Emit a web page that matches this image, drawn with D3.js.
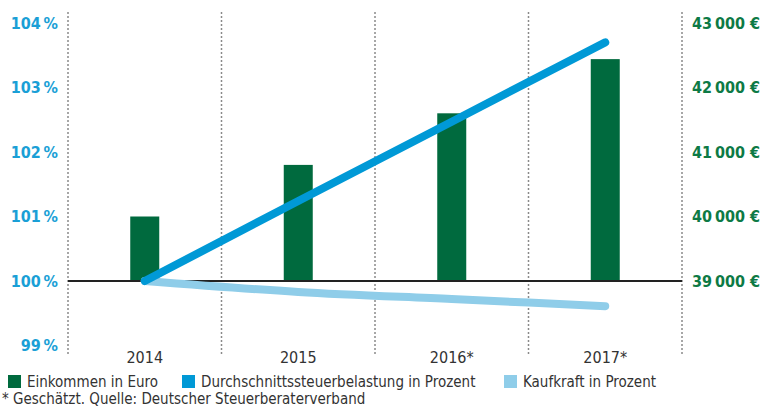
<!DOCTYPE html>
<html>
<head>
<meta charset="utf-8">
<script src="https://cdn.jsdelivr.net/npm/d3@7"></script>
<style>
  body { margin: 0; background: #fff; }
  svg text { font-family: "Liberation Sans Narrow", "DejaVu Sans Condensed", sans-serif; }
</style>
</head>
<body>
<div id="chart"></div>
<script>
let width = 760,
    height = 407,
    margin = ({ top: 23, right: 78, bottom: 61.5, left: 68 });

// data
const years = ["2014", "2015", "2016*", "2017*"];
const einkommen = [40000, 40800, 41600, 42440];
const steuerbelastung = [100, 101.24, 102.47, 103.7];
const kaufkraft = [100, 99.83, 99.72, 99.61];
const pctTicks = [99, 100, 101, 102, 103, 104];
const euroTicks = [39000, 40000, 41000, 42000, 43000];
const legendLabels = ["Einkommen in Euro", "Durchschnittssteuerbelastung in Prozent", "Kaufkraft in Prozent"];
const footnote = "* Geschätzt. Quelle: Deutscher Steuerberaterverband";

const green = "#006a3e",
      blue = "#0099d6",
      lightBlue = "#8fcde9";

const svg = d3.select("#chart")
  .append("svg")
  .attr("width", width)
  .attr("height", height);

let x = d3.scaleBand()
  .domain(years)
  .range([margin.left, width - margin.right]);

let yPct = d3.scaleLinear()
  .domain([99, 104])
  .range([height - margin.bottom, margin.top]);

let yEuro = d3.scaleLinear()
  .domain([38000, 43000])
  .range([height - margin.bottom, margin.top]);

// dotted separators
let seps = x.domain().map(d => x(d)).concat([x.range()[1]]);
svg.append("g")
  .selectAll("line")
  .data(seps)
  .join("line")
  .attr("x1", d => d)
  .attr("x2", d => d)
  .attr("y1", 12)
  .attr("y2", 356)
  .attr("stroke", "#8a8a8a")
  .attr("stroke-width", 1.5)
  .attr("stroke-dasharray", "2,2");

// bars
let barW = 29;
svg.append("g")
  .selectAll("rect")
  .data(einkommen)
  .join("rect")
  .attr("x", (d, i) => x(years[i]) + x.bandwidth() / 2 - barW / 2)
  .attr("y", d => yEuro(d))
  .attr("width", barW)
  .attr("height", d => yEuro(39000) - yEuro(d))
  .attr("fill", green);

// baseline
svg.append("line")
  .attr("x1", x.range()[0])
  .attr("x2", x.range()[1])
  .attr("y1", yPct(100))
  .attr("y2", yPct(100))
  .attr("stroke", "#222")
  .attr("stroke-width", 2);

let cx = i => x(years[i]) + x.bandwidth() / 2;

let lineSteuer = d3.line()
  .x((d, i) => cx(i))
  .y(d => yPct(d));

let lineKauf = d3.line()
  .x((d, i) => cx(i))
  .y(d => yPct(d))
  .curve(d3.curveMonotoneX);

svg.append("path")
  .datum(kaufkraft)
  .attr("fill", "none")
  .attr("stroke", lightBlue)
  .attr("stroke-width", 8)
  .attr("stroke-linecap", "round")
  .attr("d", lineKauf);

svg.append("path")
  .datum(steuerbelastung)
  .attr("fill", "none")
  .attr("stroke", blue)
  .attr("stroke-width", 8)
  .attr("stroke-linecap", "round")
  .attr("d", lineSteuer);

// left axis
let leftAxis = svg.append("g")
  .attr("transform", `translate(${margin.left - 10},0)`)
  .call(d3.axisLeft(yPct).tickValues(pctTicks).tickSize(0).tickPadding(0).tickFormat(d => d + "\u2009%"));
leftAxis.select(".domain").remove();
leftAxis.selectAll("text")
  .attr("fill", "#1a9fd6")
  .attr("font-size", 16)
  .attr("font-weight", "bold");

// right axis
let rightAxis = svg.append("g")
  .attr("transform", `translate(${x.range()[1] + 10},0)`)
  .call(d3.axisRight(yEuro).tickValues(euroTicks).tickSize(0).tickPadding(0)
    .tickFormat(d => d3.format(",")(d).replace(",", "\u2009") + " €"));
rightAxis.select(".domain").remove();
rightAxis.selectAll("text")
  .attr("fill", "#0d7a45")
  .attr("font-size", 16)
  .attr("font-weight", "bold");

// category labels
svg.append("g")
  .selectAll("text")
  .data(years)
  .join("text")
  .attr("x", (d, i) => cx(i))
  .attr("y", 363)
  .attr("text-anchor", "middle")
  .attr("font-size", 16)
  .attr("fill", "#333")
  .text(d => d);

// legend
let legendX = [8, 182, 504];
let legendColors = [green, blue, lightBlue];
let lg = svg.append("g")
  .selectAll("g")
  .data(legendLabels)
  .join("g")
  .attr("transform", (d, i) => `translate(${legendX[i]},375)`);
lg.append("rect")
  .attr("width", 13)
  .attr("height", 13)
  .attr("fill", (d, i) => legendColors[i]);
lg.append("text")
  .attr("x", 19)
  .attr("y", 12)
  .attr("font-size", 15)
  .attr("fill", "#333")
  .text(d => d);

svg.append("text")
  .attr("x", 2)
  .attr("y", 404)
  .attr("font-size", 15)
  .attr("fill", "#333")
  .text(footnote);
</script>
</body>
</html>
